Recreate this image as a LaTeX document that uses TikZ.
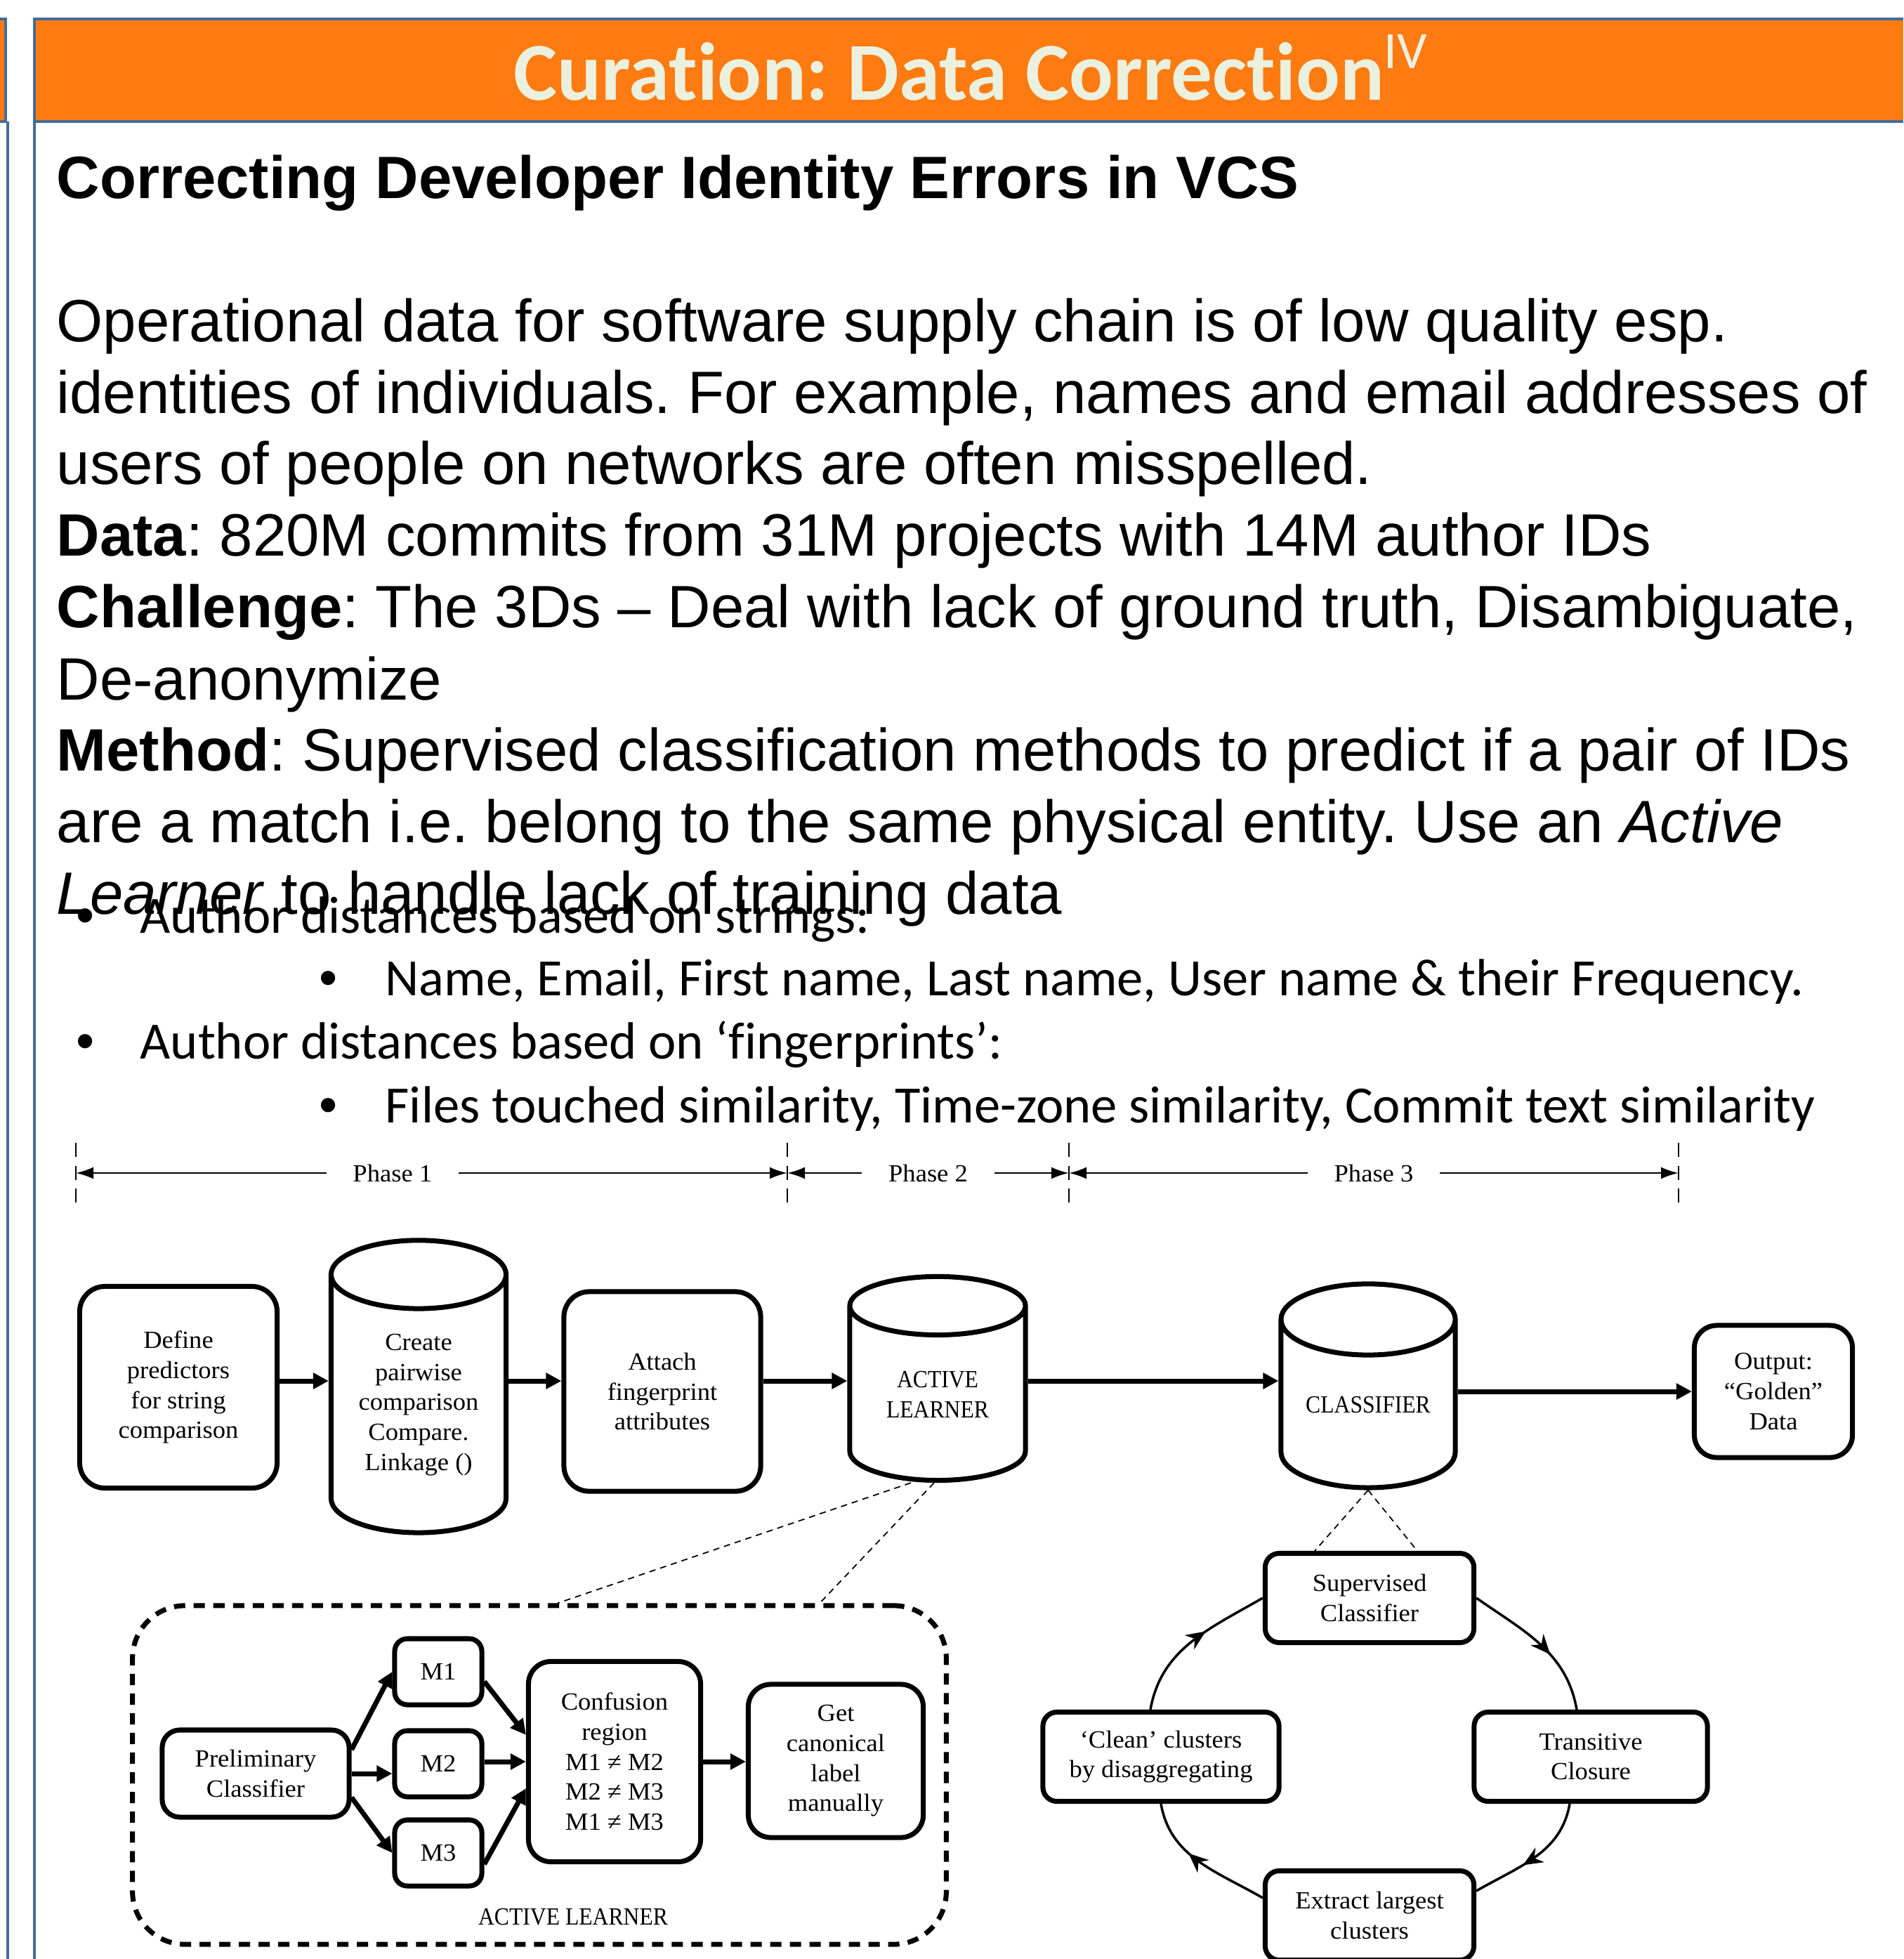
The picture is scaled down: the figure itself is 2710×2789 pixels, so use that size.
\documentclass[tikz,border=0pt]{standalone}
\usepackage{fontspec}
\setmainfont{Liberation Sans}
\newfontfamily\calibrifont{Carlito}[Ligatures=NoCommon]
\newfontfamily\diagfont{Liberation Serif}[FakeStretch=1.04]
\newfontfamily\diagcapsfont{Liberation Serif}[FakeStretch=0.9]
\usepackage{xcolor}
\definecolor{header-orange}{RGB}{253,123,17}
\definecolor{header-text}{RGB}{235,241,222}
\definecolor{slide-border}{RGB}{68,108,155}
\usetikzlibrary{arrows.meta,shapes.geometric,decorations.markings}

\begin{document}
\frenchspacing
\begin{tikzpicture}[
  x=0.01cm, y=0.01cm,
  diag/.style={font=\diagfont\fontsize{10pt}{12.15pt}\selectfont},
  diagcaps/.style={font=\diagcapsfont\fontsize{10pt}{12.15pt}\selectfont},
  box/.style={diag, draw, line width=2pt, rounded corners=0.32cm, fill=white, align=center, inner sep=0pt},
  cyl/.style={diagcaps, cylinder, shape border rotate=90, aspect=0.57, draw, line width=2pt, fill=white, align=center, inner sep=0pt},
  flow/.style={line width=2pt, -{Triangle[length=0.22cm,width=0.22cm]}},
  zoomline/.style={line width=0.5pt, dash pattern=on 0.09cm off 0.07cm},
  cyclearc/.style={line width=1pt, postaction=decorate,
    decoration={markings, mark=at position #1 with {\arrow{Stealth[length=0.28cm,width=0.24cm]}}}},
  cyclearc/.default=0.6,
  phase/.style={line width=0.8pt, {Latex[length=0.25cm,width=0.17cm]}-{Latex[length=0.25cm,width=0.17cm]}},
  tickmark/.style={line width=0.8pt, dash pattern=on 0.2cm off 0.125cm},
  phaselabel/.style={diag, fill=white, minimum width=1.88cm, minimum height=0.4cm, inner sep=0pt},
  bodyline/.style={anchor=base west, inner sep=0pt, font=\fontsize{24.2pt}{29pt}\selectfont},
  bulletline/.style={anchor=base west, inner sep=0pt, font=\calibrifont\fontsize{21.2pt}{25pt}\selectfont},
  bulletdot/.style={anchor=base, inner sep=0pt, font=\fontsize{21.2pt}{25pt}\selectfont}
]
\useasboundingbox (0,0) rectangle (2710,-2789);

% Slide frame and header bar
\fill[header-orange] (0,-27) rectangle (8,-173);
\draw[slide-border, line width=0.9pt] (0,-27) -- (8,-27) -- (8,-173) -- (0,-173);
\draw[slide-border, line width=0.9pt] (11,-173) -- (11,-2789);
\fill[header-orange] (49,-27) rectangle (2710,-173);
\draw[slide-border, line width=0.9pt] (2710,-27) -- (49,-27) -- (49,-2789);
\draw[slide-border, line width=0.9pt] (49,-173) -- (2710,-173);

% Title
\node[anchor=base, inner sep=0pt, text=header-text, font=\calibrifont\bfseries\fontsize{33.3pt}{40pt}\selectfont] (title) at (1382,-143)
  {Curation: Data Correction\raisebox{12.8pt}{\fontsize{21.3pt}{24pt}\selectfont\mdseries IV}};
\node[bodyline, font=\bfseries\fontsize{24.2pt}{29pt}\selectfont] (subtitle) at (80,-283) {Correcting Developer Identity Errors in VCS};

% Body text
\node[bodyline] (line1) at (80,-487) {Operational data for software supply chain is of low quality esp.};
\node[bodyline] (line2) at (80,-589) {identities of individuals. For example, names and email addresses of};
\node[bodyline] (line3) at (80,-690) {users of people on networks are often misspelled.};
\node[bodyline] (line4) at (80,-792) {\textbf{Data}: 820M commits from 31M projects with 14M author IDs};
\node[bodyline] (line5) at (80,-894) {\textbf{Challenge}: The 3Ds – Deal with lack of ground truth, Disambiguate,};
\node[bodyline] (line6) at (80,-996) {De-anonymize};
\node[bodyline] (line7) at (80,-1097) {\textbf{Method}: Supervised classification methods to predict if a pair of IDs};
\node[bodyline] (line8) at (80,-1199) {are a match i.e. belong to the same physical entity. Use an \textit{Active}};
\node[bodyline] (line9) at (80,-1301) {\textit{Learner} to handle lack of training data};

% Bullets
\node[bulletdot] (dot1) at (122,-1328) {•};
\node[bulletline] (bul1) at (199,-1328) {Author distances based on strings:};
\node[bulletdot] (dot2) at (468,-1417) {•};
\node[bulletline] (bul2) at (548,-1417) {Name, Email, First name, Last name, User name \& their Frequency.};
\node[bulletdot] (dot3) at (122,-1507) {•};
\node[bulletline] (bul3) at (199,-1507) {Author distances based on ‘fingerprints’:};
\node[bulletdot] (dot4) at (468,-1598) {•};
\node[bulletline] (bul4) at (548,-1598) {Files touched similarity, Time-zone similarity, Commit text similarity};

% Phase bar
\coordinate (p0) at (108,-1670);
\coordinate (p1) at (1121,-1670);
\coordinate (p2) at (1522,-1670);
\coordinate (p3) at (2390,-1670);
\foreach \p in {p0,p1,p2,p3}
  \draw[tickmark] ([yshift=0.43cm]\p) -- ([yshift=-0.42cm]\p);
\draw[phase] (p0) -- node[phaselabel, pos=0.445] (ph1) {Phase 1} (p1);
\draw[phase] (p1) -- node[phaselabel] (ph2) {Phase 2} (p2);
\draw[phase] (p2) -- node[phaselabel] (ph3) {Phase 3} (p3);

% Main pipeline
\coordinate (row) at (0,-1966);
\node[box, minimum width=2.81cm, minimum height=2.87cm, rounded corners=0.36cm] (define) at (254,-1975) {Define\\predictors\\for string\\comparison};
\node[cyl, diag, minimum width=2.49cm, minimum height=4.16cm] (create) at (596,-2000) {Create\\pairwise\\comparison\\Compare.\\Linkage ()};
\node[box, minimum width=2.80cm, minimum height=2.84cm, rounded corners=0.36cm] (attach) at (943,-1981) {Attach\\fingerprint\\attributes};
\node[cyl, minimum width=2.50cm, minimum height=2.90cm] (active) at (1335,-1985) {ACTIVE\\LEARNER};
\node[cyl, minimum width=2.48cm, minimum height=2.90cm] (classifier) at (1948,-2000) {CLASSIFIER};
\node[box, minimum width=2.25cm, minimum height=1.88cm] (output) at (2525,-1981) {Output:\\“Golden”\\Data};

\draw[flow] (define.east |- row) -- (create.west |- row);
\draw[flow] (create.east |- row) -- (attach.west |- row);
\draw[flow] (attach.east |- row) -- (active.west |- row);
\draw[flow] (active.east |- row) -- (classifier.west |- row);
\draw[flow] (classifier.east |- output.west) -- (output.west);

% Active learner detail
\node[draw, line width=2pt, dash pattern=on 0.16cm off 0.12cm, rounded corners=0.75cm,
  minimum width=11.58cm, minimum height=4.82cm] (alframe) at (768,-2527) {};
\node[diagcaps, anchor=base] (allabel) at (816,-2740) {ACTIVE LEARNER};
\draw[zoomline] ([xshift=-0.38cm]active.south) -- ([xshift=0.26cm]alframe.north);
\draw[zoomline] ([xshift=-0.05cm]active.south) -- ([xshift=3.99cm]alframe.north);

\node[box, minimum width=2.66cm, minimum height=1.24cm, rounded corners=0.25cm] (prelim) at (364,-2525) {Preliminary\\Classifier};
\node[box, minimum width=1.24cm, minimum height=0.94cm, rounded corners=0.18cm] (m1) at (624,-2380) {M1};
\node[box, minimum width=1.24cm, minimum height=0.94cm, rounded corners=0.18cm] (m2) at (624,-2511) {M2};
\node[box, minimum width=1.24cm, minimum height=0.94cm, rounded corners=0.18cm] (m3) at (624,-2638) {M3};
\node[box, minimum width=2.45cm, minimum height=2.85cm] (conf) at (875,-2508) {Confusion\\region\\M1 ≠ M2\\M2 ≠ M3\\M1 ≠ M3};
\node[box, minimum width=2.49cm, minimum height=2.18cm] (getlabel) at (1190,-2507) {Get\\canonical\\label\\manually};

\draw[flow] ([yshift=0.34cm]prelim.east) -- (m1.west);
\draw[flow] (prelim.east) -- (prelim.east -| m2.west);
\draw[flow] ([yshift=-0.34cm]prelim.east) -- (m3.west);
\draw[flow] ([yshift=-0.14cm]m1.east) -- ([yshift=0.38cm]conf.west);
\draw[flow] (m2.east |- conf.west) -- (conf.west);
\draw[flow] ([yshift=-0.16cm]m3.east) -- ([yshift=-0.38cm]conf.west);
\draw[flow] (conf.east) -- (conf.east -| getlabel.west);

% Classifier cycle
\node[box, minimum width=2.97cm, minimum height=1.27cm, rounded corners=0.2cm] (sup) at (1950,-2275) {Supervised\\Classifier};
\node[box, minimum width=3.36cm, minimum height=1.27cm, rounded corners=0.2cm] (clean) at (1653,-2501) {‘Clean’ clusters\\by disaggregating};
\node[box, minimum width=3.32cm, minimum height=1.27cm, rounded corners=0.2cm] (trans) at (2265,-2501) {Transitive\\Closure};
\node[box, minimum width=2.97cm, minimum height=1.27cm, rounded corners=0.2cm] (ext) at (1950,-2727) {Extract largest\\clusters};

\draw[zoomline] (classifier.south) -- ([xshift=-0.78cm]sup.north);
\draw[zoomline] (classifier.south) -- ([xshift=0.68cm]sup.north);

\draw[cyclearc] (sup.east) to[out=-35, in=100] ([xshift=-0.2cm]trans.north);
\draw[cyclearc] ([xshift=-0.3cm]trans.south) to[out=-100, in=30] ([yshift=0.35cm]ext.east);
\draw[cyclearc] ([yshift=0.25cm]ext.west) to[out=150, in=-80] (clean.south);
\draw[cyclearc] ([xshift=-0.15cm]clean.north) to[out=80, in=-150] (sup.west);

\end{tikzpicture}
\end{document}
